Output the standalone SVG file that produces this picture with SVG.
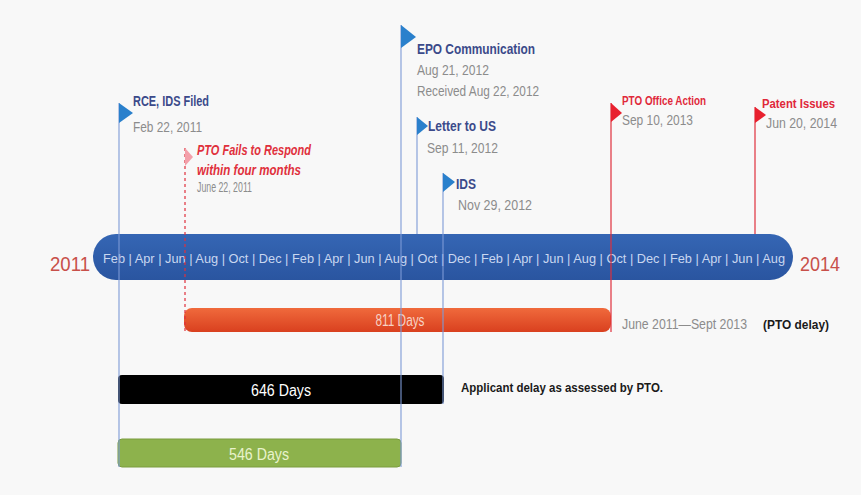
<svg xmlns="http://www.w3.org/2000/svg" width="861" height="495" viewBox="0 0 861 495">
<defs>
<style>
.t{font-family:"Liberation Sans",Arial,sans-serif}
.ttl{font-family:"Liberation Sans",Arial,sans-serif;font-weight:bold;font-size:14px;fill:#3b4a8a}
.dt{font-family:"Liberation Sans",Arial,sans-serif;font-size:14px;fill:#8c8c8c}
.red{font-family:"Liberation Sans",Arial,sans-serif;font-weight:bold;font-size:13px;fill:#e0283a}
.blk{font-family:"Liberation Sans",Arial,sans-serif;font-weight:bold;font-size:13px;fill:#1a1a1a}
.bflag{fill:#2a80cc}
.rflag{fill:#e8202e}
.bl{stroke:#7d9ad6;stroke-width:1.1;fill:none}
.rl{stroke:#e0303c;stroke-width:1.2;fill:none}
.bar{font-family:"Liberation Sans",Arial,sans-serif;font-size:16px;text-anchor:middle}
</style>
<linearGradient id="gOr" x1="0" y1="0" x2="0" y2="1">
<stop offset="0" stop-color="#f06a3c"/>
<stop offset="1" stop-color="#d9401f"/>
</linearGradient>
<linearGradient id="gBl" x1="0" y1="0" x2="0" y2="1">
<stop offset="0" stop-color="#3566b4"/>
<stop offset="1" stop-color="#2a55a0"/>
</linearGradient>
</defs>
<rect x="0" y="0" width="861" height="495" fill="#f8f8f8"/>

<g id="timeline">
<rect x="93" y="234" width="700" height="46" rx="23" fill="url(#gBl)"/>
<text class="t" x="103" y="263" font-size="13" fill="#c9d7f0" textLength="682" lengthAdjust="spacingAndGlyphs">Feb | Apr | Jun | Aug | Oct | Dec | Feb | Apr | Jun | Aug | Oct | Dec | Feb | Apr | Jun | Aug | Oct | Dec | Feb | Apr | Jun | Aug</text>
<text class="t" x="50" y="271" font-size="20" fill="#c8504a" textLength="40" lengthAdjust="spacingAndGlyphs">2011</text>
<text class="t" x="800" y="271" font-size="20" fill="#c8504a" textLength="40" lengthAdjust="spacingAndGlyphs">2014</text>
</g>

<g id="bar-811">
<rect x="184" y="308" width="427" height="24" rx="8" fill="url(#gOr)"/>
<text class="bar" x="400" y="326" fill="#f7d2c4" font-size="15" textLength="49" lengthAdjust="spacingAndGlyphs">811 Days</text>
<text class="dt" x="622" y="329" textLength="125" lengthAdjust="spacingAndGlyphs">June 2011—Sept 2013</text>
<text class="blk" x="763" y="329" textLength="66" lengthAdjust="spacingAndGlyphs">(PTO delay)</text>
</g>

<g id="bar-646">
<rect x="118" y="375" width="326" height="29" rx="4" fill="#000"/>
<text class="bar" x="281" y="396" fill="#ffffff" font-size="17" textLength="60" lengthAdjust="spacingAndGlyphs">646 Days</text>
<text class="blk" x="461" y="392" textLength="202" lengthAdjust="spacingAndGlyphs">Applicant delay as assessed by PTO.</text>
</g>

<g id="bar-546">
<rect x="118" y="439" width="283" height="28" rx="4" fill="#8db24c" stroke="#7a9c3e" stroke-width="1"/>
<text class="bar" x="259" y="460" fill="#e9f2cc" font-size="17" textLength="60" lengthAdjust="spacingAndGlyphs">546 Days</text>
</g>

<g id="connectors">
<line class="bl" x1="119" y1="103" x2="119" y2="467"/>
<line class="bl" x1="401" y1="25" x2="401" y2="467"/>
<line class="bl" x1="417" y1="117" x2="417" y2="234"/>
<line class="bl" x1="443" y1="173" x2="443" y2="404"/>
<line class="rl" x1="185" y1="148" x2="185" y2="332" stroke-dasharray="3,3"/>
<line class="rl" x1="611" y1="103" x2="611" y2="332"/>
<line class="rl" x1="755" y1="107" x2="755" y2="234"/>
</g>

<g id="rce">
<polygon class="bflag" points="119,103 133,113 119,123"/>
<text class="ttl" x="133" y="106" textLength="76" lengthAdjust="spacingAndGlyphs">RCE, IDS Filed</text>
<text class="dt" x="133" y="132" textLength="69" lengthAdjust="spacingAndGlyphs">Feb 22, 2011</text>
</g>

<g id="pto-fails">
<polygon points="185,148 193,157 185,166" fill="#f3a0aa"/>
<text class="t" x="197" y="155" font-size="14" font-weight="bold" font-style="italic" fill="#e0303c" textLength="114" lengthAdjust="spacingAndGlyphs">PTO Fails to Respond</text>
<text class="t" x="197" y="175" font-size="14" font-weight="bold" font-style="italic" fill="#e0303c" textLength="104" lengthAdjust="spacingAndGlyphs">within four months</text>
<text class="dt" x="197" y="192" font-size="11" textLength="55" lengthAdjust="spacingAndGlyphs">June 22, 2011</text>
</g>

<g id="epo">
<polygon class="bflag" points="401,25 416,37 401,48"/>
<text class="ttl" x="417" y="54" textLength="118" lengthAdjust="spacingAndGlyphs">EPO Communication</text>
<text class="dt" x="417" y="75" textLength="72" lengthAdjust="spacingAndGlyphs">Aug 21, 2012</text>
<text class="dt" x="417" y="96" textLength="122" lengthAdjust="spacingAndGlyphs">Received Aug 22, 2012</text>
</g>

<g id="letter">
<polygon class="bflag" points="417,117 428,126 417,135"/>
<text class="ttl" x="428" y="131" textLength="68" lengthAdjust="spacingAndGlyphs">Letter to US</text>
<text class="dt" x="427" y="153" textLength="71" lengthAdjust="spacingAndGlyphs">Sep 11, 2012</text>
</g>

<g id="ids">
<polygon class="bflag" points="443,173 455,182 443,192"/>
<text class="ttl" x="456" y="189" textLength="20" lengthAdjust="spacingAndGlyphs">IDS</text>
<text class="dt" x="458" y="210" textLength="74" lengthAdjust="spacingAndGlyphs">Nov 29, 2012</text>
</g>

<g id="pto-action">
<polygon class="rflag" points="611,103 622,113 611,122"/>
<text class="red" x="622" y="105" font-size="12" textLength="84" lengthAdjust="spacingAndGlyphs">PTO Office Action</text>
<text class="dt" x="622" y="125" textLength="71" lengthAdjust="spacingAndGlyphs">Sep 10, 2013</text>
</g>

<g id="patent">
<polygon class="rflag" points="755,107 766,115 755,123"/>
<text class="red" x="762" y="108" textLength="73" lengthAdjust="spacingAndGlyphs">Patent Issues</text>
<text class="dt" x="766" y="128" textLength="71" lengthAdjust="spacingAndGlyphs">Jun 20, 2014</text>
</g>
</svg>
